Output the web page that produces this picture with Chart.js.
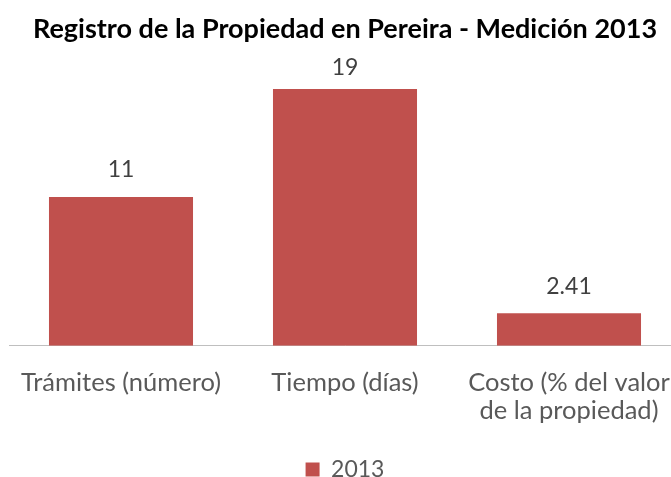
<!DOCTYPE html>
<html>
<head>
<meta charset="utf-8">
<script src="https://cdn.jsdelivr.net/npm/chart.js@4"></script>
<style>
  html, body { margin: 0; padding: 0; background: #fff; overflow: hidden; }
  #wrap { width: 681px; height: 491px; }
</style>
</head>
<body>
<div id="wrap"><canvas id="grafico"></canvas></div>
<script>
// données du graphique (lignes vides pour placer les étiquettes)
const categorias = [['', 'Trámites (número)', '', ''], ['', 'Tiempo (días)', '', ''], ['', 'Costo (% del valor', 'de la propiedad)', '']];
const valores2013 = [11, 19, 2.41];
const etiquetasValores = ['11', '19', '2.41'];
const serie = '2013';

const fuente = 'Lato, "Noto Sans", sans-serif';

// plugin pour écrire les valeurs au-dessus des barres
const etiquetasBarras = {
    id: 'etiquetasBarras',
    afterDatasetsDraw(chart) {
        const ctx = chart.ctx;
        const meta = chart.getDatasetMeta(0);
        ctx.save();
        ctx.font = '23px ' + fuente;
        ctx.fillStyle = '#404040';
        ctx.textAlign = 'center';
        ctx.textBaseline = 'middle';
        meta.data.forEach((barra, i) => {
            // comme Excel : l'étiquette reste près du haut de la zone
            let y = Math.max(barra.y - 27, chart.chartArea.top - 8);
            ctx.fillText(etiquetasValores[i], barra.x, y);
        });
        ctx.restore();
    }
};

new Chart(document.getElementById('grafico'), {
    type: 'bar',
    data: {
        labels: categorias,
        datasets: [{
            label: serie,
            data: valores2013,
            backgroundColor: '#C0504D',
            categoryPercentage: 1,
            barPercentage: 0.643
        }]
    },
    options: {
        responsive: true,
        maintainAspectRatio: false,
        animation: false,
        layout: { padding: { left: 9, right: 0, top: 0, bottom: 0 } },
        scales: {
            x: {
                grid: { display: false, drawTicks: false },
                border: { color: '#BFBFBF', width: 1 },
                ticks: { color: '#595959', font: { family: fuente, size: 25.5, lineHeight: 1.12 }, padding: -6, maxRotation: 0 }
            },
            y: {
                display: false,
                min: 0,
                max: 20
            }
        },
        plugins: {
            title: {
                display: true,
                text: 'Registro de la Propiedad en Pereira - Medición 2013',
                color: '#000',
                font: { family: fuente, size: 27, weight: 'bold' },
                padding: { top: 13, bottom: 30 }
            },
            legend: {
                position: 'bottom',
                labels: {
                    color: '#595959',
                    font: { family: fuente, size: 23 },
                    boxWidth: 14,
                    boxHeight: 14,
                    padding: 10
                }
            },
            tooltip: { enabled: false }
        }
    },
    plugins: [etiquetasBarras]
});
</script>
</body>
</html>
